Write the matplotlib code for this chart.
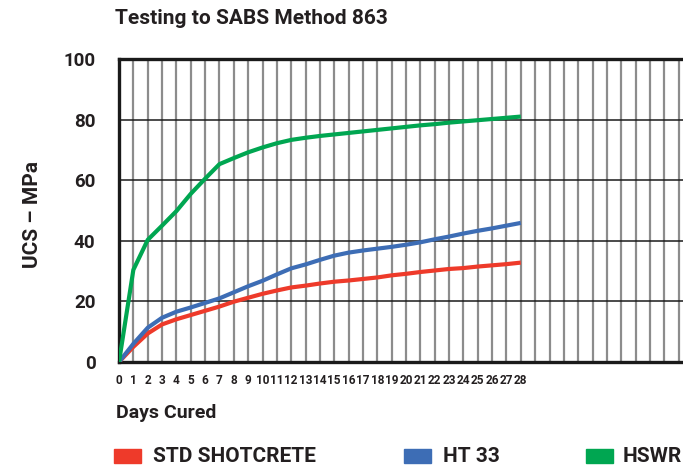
import numpy as np
import matplotlib
matplotlib.use("Agg")
import matplotlib.pyplot as plt
from matplotlib.patches import Rectangle

plt.rcParams['font.family'] = ['Roboto', 'DejaVu Sans']
plt.rcParams['font.weight'] = 'bold'

# dias de curado y resistencia (UCS, MPa) de cada mezcla
dias = list(range(0, 29))
std_shotcrete = [0, 5, 9.4, 12.4, 14.1, 15.5, 16.9, 18.3, 19.9, 21.2, 22.5, 23.6, 24.6, 25.2,
                 25.9, 26.5, 26.9, 27.4, 27.9, 28.6, 29.1, 29.7, 30.2, 30.7, 31.0, 31.5,
                 31.9, 32.3, 32.8]
ht33 = [0, 6, 11.3, 14.6, 16.6, 18.0, 19.5, 21.0, 23.0, 25.0, 26.8, 28.9, 30.9, 32.2,
        33.7, 35.1, 36.1, 36.8, 37.4, 38.0, 38.7, 39.5, 40.5, 41.4, 42.4, 43.3, 44.1,
        45.0, 45.9]
hswr = [0, 30.4, 40.3, 45, 49.8, 55.5, 60.5, 65.3, 67.3, 69.2, 70.8, 72.2, 73.3, 74.0,
        74.6, 75.1, 75.6, 76.1, 76.6, 77.1, 77.6, 78.1, 78.5, 79.0, 79.4, 79.8, 80.2,
        80.6, 81.0]

series = ['STD SHOTCRETE', 'HT 33', 'HSWR']
colores = ['#EE3A2A', '#3D6DB5', '#00A651']

W, H = 683, 472
fig = plt.figure(figsize=(W / 100, H / 100), dpi=100)
# el eje sigue mas alla del borde derecho de la figura
ax = fig.add_axes([119 / W, 1 - 362 / H, 574 / W, 303 / H])

ax.set_xlim(0, 40)
ax.set_ylim(0, 100)

# rejilla: verticales grises cada dia, horizontales negras cada 20 MPa
ax.vlines(np.arange(1, 40), 0, 100, color='#8c8c8c', lw=1.6, zorder=1)
ax.hlines([20, 40, 60, 80], 0, 40, color='#1a1a1a', lw=1.1, zorder=1)

for valores, color in zip([std_shotcrete, ht33, hswr], colores):
    ax.plot(dias, valores, color=color, lw=3, solid_capstyle='butt', zorder=3)

for lado in ['left', 'bottom', 'top']:
    ax.spines[lado].set_linewidth(2.4)
    ax.spines[lado].set_color('#1a1a1a')
ax.spines['right'].set_visible(False)

ax.set_xticks(dias)
ax.set_xticklabels([str(d) for d in dias], fontsize=8.5, fontweight='bold')
ax.set_yticks([0, 20, 40, 60, 80, 100])
ax.set_yticklabels(['0', '20', '40', '60', '80', '100'], fontsize=13.5, fontweight='bold')
ax.tick_params(axis='both', length=0, colors='#231f20')
ax.tick_params(axis='x', pad=9)
ax.tick_params(axis='y', pad=17)

fig.text(115 / W, 1 - 18 / H, 'Testing to SABS Method 863', fontsize=15,
         fontweight='bold', color='#231f20', va='center', ha='left')
fig.text(33 / W, 1 - 215 / H, 'UCS – MPa', fontsize=15, fontweight='bold',
         color='#231f20', rotation=90, va='center', ha='center')
fig.text(116 / W, 1 - 413 / H, 'Days Cured', fontsize=14, fontweight='bold',
         color='#231f20', va='center', ha='left')

# leyenda hecha a mano
cajas = [114, 404, 586]
textos_x = [153, 443, 623]
for nombre, color, cx, tx in zip(series, colores, cajas, textos_x):
    fig.patches.append(Rectangle((cx / W, 1 - 463 / H), 27 / W, 14 / H,
                                 transform=fig.transFigure, color=color))
    fig.text(tx / W, 1 - 456 / H, nombre, fontsize=15, fontweight='bold',
             color='#231f20', va='center', ha='left')

fig.savefig('out.png', dpi=100)
